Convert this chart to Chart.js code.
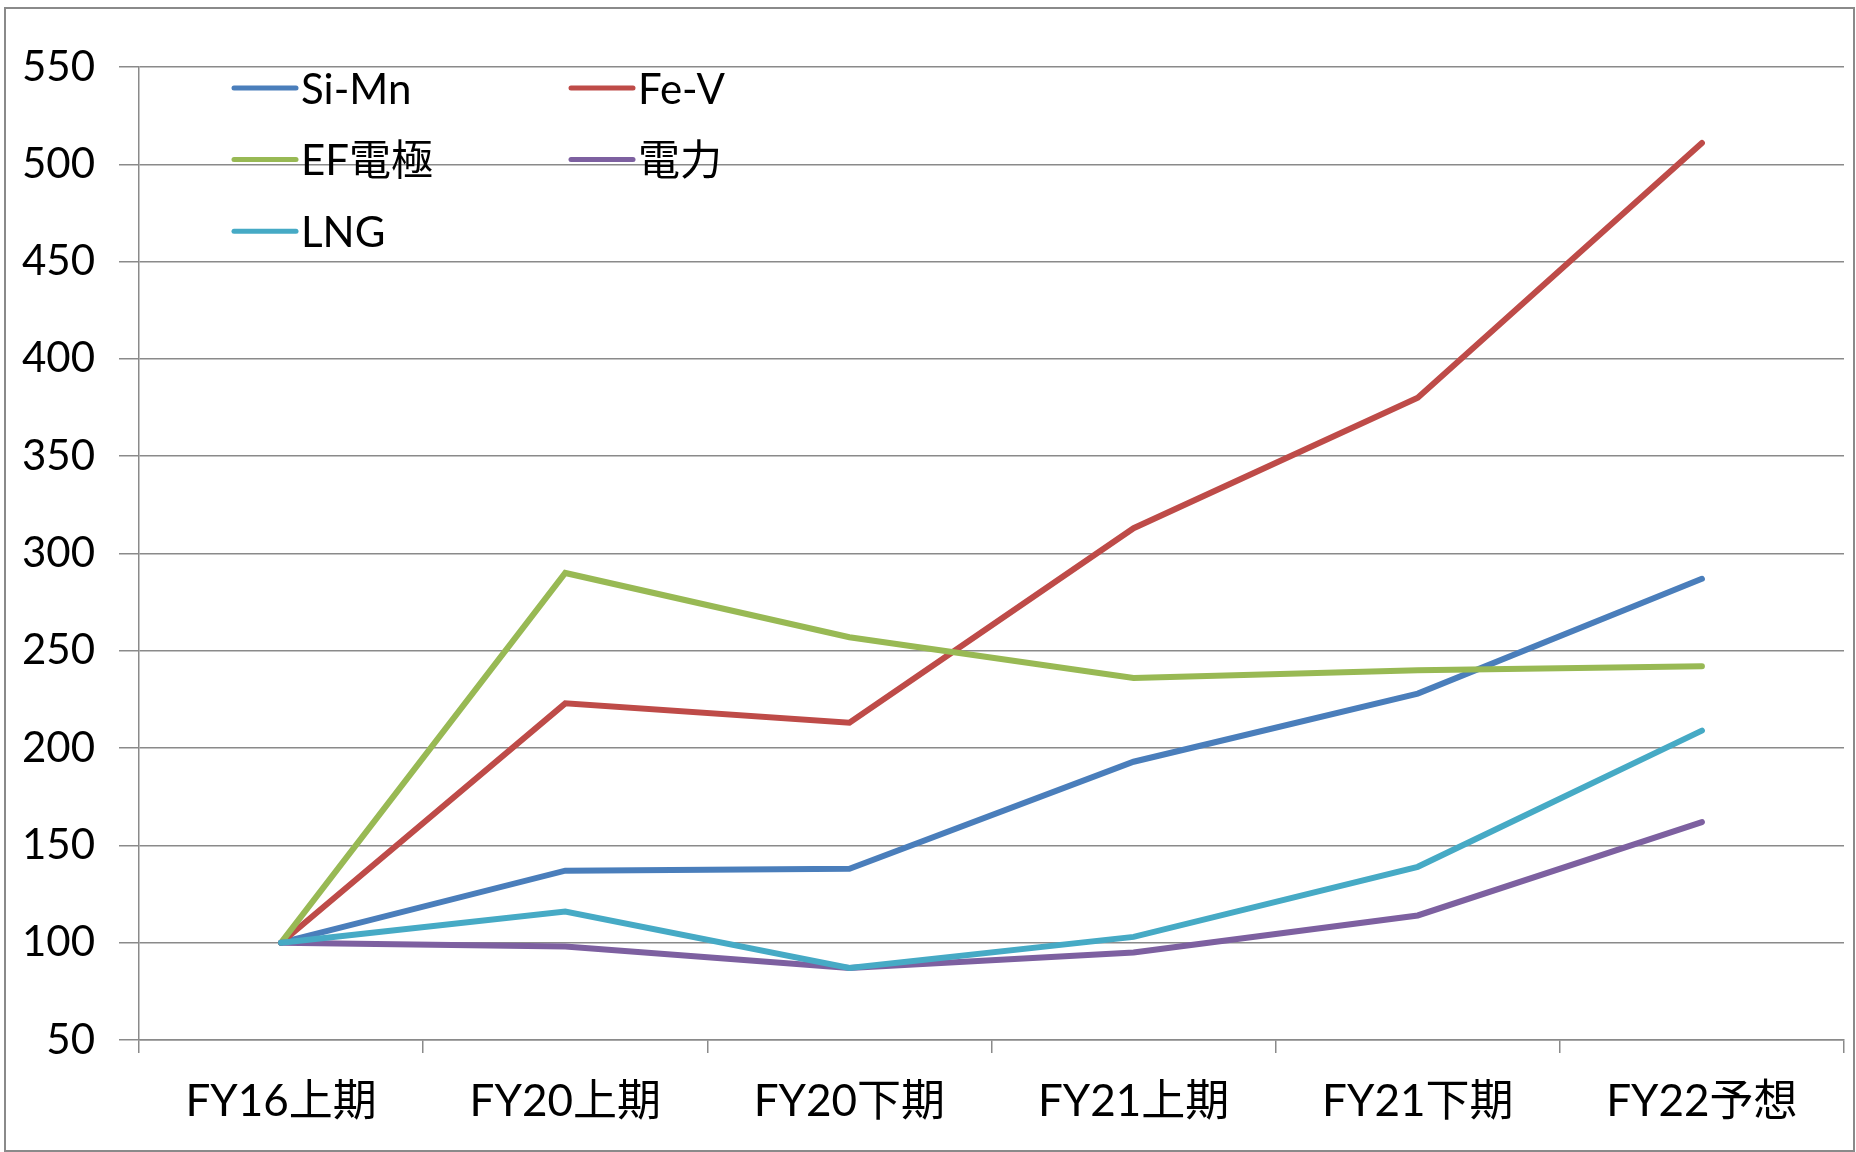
<!DOCTYPE html>
<html>
<head>
<meta charset="utf-8">
<script src="https://cdn.jsdelivr.net/npm/chart.js@4.4.1/dist/chart.umd.min.js"></script>
<style>
  html, body { margin: 0; padding: 0; background: #fff; }
  body { width: 1856px; height: 1152px; position: relative; overflow: hidden; }
  #frame {
    position: absolute; left: 4px; top: 7px;
    width: 1847px; height: 1141px;
    border: 2px solid #8a8a8a;
  }
  #frame canvas { display: block; }
</style>
</head>
<body>
<div id="frame"><canvas id="chart" width="1847" height="1141"></canvas></div>
<script>
// Price index (FY16上期 = 100)
const periods = ['FY16上期', 'FY20上期', 'FY20下期', 'FY21上期', 'FY21下期', 'FY22予想'];
const siMn = [100, 137, 138, 193, 228, 287];
const feV = [100, 223, 213, 313, 380, 511];
const efElectrode = [100, 290, 257, 236, 240, 242];
const power = [100, 98, 87, 95, 114, 162];
const lng = [100, 116, 87, 103, 139, 209];

const seriesNames = ['Si-Mn', 'Fe-V', 'EF電極', '電力', 'LNG'];
const seriesData = [siMn, feV, efElectrode, power, lng];
const seriesColors = ['#4a7ebb', '#be4b48', '#98b954', '#7d60a0', '#46aac5'];

const FONT = 'Lato, "Noto Sans CJK JP", sans-serif';

// legend drawn inside the plot, two columns
const insetLegend = {
  id: 'insetLegend',
  afterDraw(chart, args, opts) {
    const { ctx, chartArea } = chart;
    ctx.save();
    ctx.font = `${opts.fontSize}px ${FONT}`;
    ctx.textBaseline = 'middle';
    ctx.textAlign = 'left';
    chart.data.datasets.forEach((ds, i) => {
      const col = i % 2;
      const row = Math.floor(i / 2);
      const x = chartArea.left + opts.offsetX + col * opts.colWidth;
      const y = chartArea.top + opts.offsetY + row * opts.rowHeight;
      ctx.strokeStyle = ds.borderColor;
      ctx.lineWidth = 5;
      ctx.lineCap = 'round';
      ctx.beginPath();
      ctx.moveTo(x, y);
      ctx.lineTo(x + opts.lineLength, y);
      ctx.stroke();
      ctx.fillStyle = '#000';
      ctx.fillText(ds.label, x + opts.lineLength + opts.gap, y + 2);
    });
    ctx.restore();
  }
};

new Chart(document.getElementById('chart'), {
  type: 'line',
  data: {
    labels: periods,
    datasets: seriesNames.map((name, i) => ({
      label: name,
      data: seriesData[i],
      borderColor: seriesColors[i],
      backgroundColor: seriesColors[i],
      borderWidth: 6,
      borderCapStyle: 'round',
      pointRadius: 0,
      tension: 0,
      // later series sit on top
      order: seriesNames.length - i
    }))
  },
  options: {
    responsive: false,
    animation: false,
    layout: { padding: { left: 0, top: 58, right: 9, bottom: 0 } },
    scales: {
      x: {
        offset: true,
        grid: {
          offset: true,
          drawOnChartArea: false,
          drawTicks: true,
          tickLength: 13,
          color: '#8a8a8a',
          lineWidth: 1.5
        },
        border: { display: true, color: '#8a8a8a', width: 1.5 },
        ticks: {
          color: '#000',
          padding: 22,
          maxRotation: 0,
          font: { family: FONT, size: 44 }
        },
        afterFit(scale) { scale.height = 110; }
      },
      y: {
        min: 50,
        max: 550,
        grid: {
          color: '#8a8a8a',
          lineWidth: 1.5,
          tickLength: 20
        },
        border: { display: true, color: '#8a8a8a', width: 1.5 },
        ticks: {
          stepSize: 50,
          color: '#000',
          padding: 24,
          font: { family: FONT, size: 42 }
        },
        afterFit(scale) { scale.width = 133; }
      }
    },
    plugins: {
      legend: { display: false },
      tooltip: { enabled: false },
      insetLegend: {
        fontSize: 42,
        offsetX: 95,
        offsetY: 21,
        colWidth: 337,
        rowHeight: 71.6,
        lineLength: 62,
        gap: 5
      }
    }
  },
  plugins: [insetLegend]
});
</script>
</body>
</html>
